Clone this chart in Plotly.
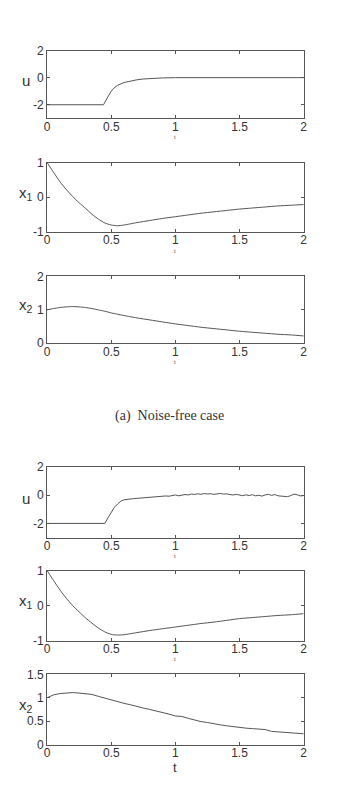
import plotly.graph_objects as go

# ---------------- data ----------------
t_u_clean = [0, 0.44, 0.46, 0.48, 0.5, 0.52, 0.55, 0.6, 0.65, 0.7, 0.75, 0.8, 0.9, 1.0, 2.0]
u_clean = [-2, -2, -1.65, -1.3, -1.0, -0.78, -0.56, -0.36, -0.25, -0.16, -0.1, -0.06, -0.02, 0, 0]

t_x = [0, 0.05, 0.1, 0.15, 0.2, 0.25, 0.3, 0.35, 0.4, 0.45, 0.5, 0.55, 0.6, 0.7, 0.8, 0.9,
       1.0, 1.1, 1.2, 1.3, 1.4, 1.5, 1.6, 1.7, 1.8, 1.9, 2.0]
x1_clean = [1.0, 0.72, 0.45, 0.22, 0.02, -0.16, -0.32, -0.49, -0.63, -0.74, -0.8, -0.82, -0.8,
            -0.73, -0.67, -0.61, -0.56, -0.51, -0.46, -0.42, -0.38, -0.34, -0.31, -0.28, -0.25, -0.23, -0.21]
x2_clean = [1.0, 1.04, 1.07, 1.09, 1.1, 1.09, 1.07, 1.04, 1.0, 0.96, 0.91, 0.87, 0.83,
            0.76, 0.7, 0.64, 0.58, 0.53, 0.48, 0.44, 0.4, 0.36, 0.33, 0.3, 0.27, 0.25, 0.22]

t_u_noisy = [0, 0.45, 0.475, 0.5, 0.525, 0.55, 0.575, 0.6, 0.625, 0.65, 0.675, 0.7, 0.725, 0.75,
             0.775, 0.8, 0.825, 0.85, 0.875, 0.9, 0.925, 0.95, 0.975, 1.0, 1.025, 1.05, 1.075,
             1.1, 1.125, 1.15, 1.175, 1.2, 1.225, 1.25, 1.275, 1.3, 1.325, 1.35, 1.375, 1.4,
             1.425, 1.45, 1.475, 1.5, 1.525, 1.55, 1.575, 1.6, 1.625, 1.65, 1.675, 1.7, 1.725,
             1.75, 1.775, 1.8, 1.825, 1.85, 1.875, 1.9, 1.925, 1.95, 1.975, 2.0]
u_noisy = [-2, -2, -1.6, -1.2, -0.85, -0.62, -0.42, -0.32, -0.28, -0.27, -0.24, -0.22, -0.2, -0.17,
           -0.15, -0.12, -0.1, -0.08, -0.1, -0.06, -0.05, -0.07, -0.02, 0.02, -0.04, 0.01, 0.05,
           0.02, 0.08, 0.06, 0.1, 0.07, 0.12, 0.09, 0.11, 0.06, 0.1, 0.13, 0.08, 0.1,
           0.05, 0.02, 0.06, 0.01, -0.03, 0.03, -0.02, 0.04, -0.04, 0.0, -0.06, 0.02, 0.07,
           -0.01, 0.05, -0.04, -0.07, -0.12, -0.1, -0.02, 0.08, 0.03, -0.05, -0.02]

x1_noisy = [1.0, 0.72, 0.45, 0.21, 0.0, -0.18, -0.35, -0.5, -0.64, -0.75, -0.82, -0.84, -0.83,
            -0.77, -0.71, -0.66, -0.61, -0.56, -0.51, -0.47, -0.42, -0.37, -0.34, -0.31, -0.28, -0.26, -0.23]

t_x2_noisy = [0, 0.05, 0.1, 0.15, 0.2, 0.25, 0.3, 0.35, 0.4, 0.45, 0.5, 0.55, 0.6, 0.65, 0.7, 0.75,
              0.8, 0.85, 0.9, 0.95, 1.0, 1.05, 1.1, 1.15, 1.2, 1.25, 1.3, 1.35, 1.4, 1.45, 1.5,
              1.55, 1.6, 1.65, 1.7, 1.75, 1.8, 1.85, 1.9, 1.95, 2.0]
x2_noisy = [1.0, 1.06, 1.09, 1.1, 1.11, 1.1, 1.09, 1.07, 1.03, 0.99, 0.95, 0.91, 0.88, 0.85, 0.81, 0.78,
            0.75, 0.72, 0.69, 0.65, 0.61, 0.6, 0.56, 0.52, 0.49, 0.47, 0.44, 0.42, 0.4, 0.38, 0.37,
            0.35, 0.34, 0.33, 0.32, 0.28, 0.27, 0.27, 0.26, 0.25, 0.23]

x_ticks = [0, 0.5, 1, 1.5, 2]
x_ticktext = ["0", "0.5", "1", "1.5", "2"]

panels = [
    dict(t=t_u_clean, y=u_clean, rng=[-3, 2], ticks=[-2, 0, 2], label="u", shape="linear"),
    dict(t=t_x, y=x1_clean, rng=[-1, 1], ticks=[-1, 0, 1], label="x<sub>1</sub>", shape="spline"),
    dict(t=t_x, y=x2_clean, rng=[0, 2], ticks=[0, 1, 2], label="x<sub>2</sub>", shape="spline"),
    dict(t=t_u_noisy, y=u_noisy, rng=[-3, 2], ticks=[-2, 0, 2], label="u", shape="linear"),
    dict(t=t_x, y=x1_noisy, rng=[-1, 1], ticks=[-1, 0, 1], label="x<sub>1</sub>", shape="spline"),
    dict(t=t_x2_noisy, y=x2_noisy, rng=[0, 1.5], ticks=[0, 0.5, 1, 1.5], label="x<sub>2</sub>", shape="linear"),
]

# ---------------- layout ----------------
W, H = 340, 797
X0, X1 = 45, 307
boxes = [(44.3, 113.3), (158.3, 229.0), (274.3, 342.3), (468.3, 540.0), (573.7, 645.0), (679.3, 750.7)]

AX = "#555555"
LINE = "#555555"
TXT = "#333333"
FONT = "Liberation Sans, Arial, sans-serif"

fig = go.Figure()
layout = dict(
    width=W, height=H, margin=dict(l=0, r=0, t=0, b=0),
    paper_bgcolor="white", plot_bgcolor="white", showlegend=False,
    font=dict(family=FONT, color=TXT, size=12),
)
annotations = []

for i, (p, (top, bot)) in enumerate(zip(panels, boxes), start=1):
    xa = "x" if i == 1 else "x%d" % i
    ya = "y" if i == 1 else "y%d" % i
    fig.add_trace(go.Scatter(x=p["t"], y=p["y"], mode="lines", xaxis=xa, yaxis=ya,
                             line=dict(color=LINE, width=1, shape=p["shape"], smoothing=0.6),
                             hoverinfo="skip"))
    dom_y = [1 - bot / H, 1 - top / H]
    common = dict(showline=True, mirror="ticks", linecolor=AX, linewidth=1,
                  ticks="inside", ticklen=3, tickwidth=1, tickcolor=AX,
                  showgrid=False, zeroline=False, tickfont=dict(family=FONT, size=12, color=TXT))
    layout["xaxis" if i == 1 else "xaxis%d" % i] = dict(
        domain=[X0 / W, X1 / W], range=[0, 2], anchor=ya, ticklabelstandoff=-3,
        tickvals=x_ticks, ticktext=x_ticktext, **common)
    layout["yaxis" if i == 1 else "yaxis%d" % i] = dict(
        domain=dom_y, range=p["rng"], anchor=xa,
        tickvals=p["ticks"], ticktext=["%g" % v for v in p["ticks"]], **common)
    # y label
    annotations.append(dict(text=p["label"], x=23 / W, y=1 - ((top + bot) / 2 - 4) / H,
                            xref="paper", yref="paper", showarrow=False,
                            xanchor="center", yanchor="middle",
                            font=dict(family=FONT, size=15, color=TXT)))
    # x label "t"
    if i < 6:
        annotations.append(dict(text="t", x=(X0 + X1) / 2 / W, y=1 - (bot + 19) / H,
                                xref="paper", yref="paper", showarrow=False,
                                xanchor="center", yanchor="middle",
                                font=dict(family=FONT, size=6, color="#555555")))
    else:
        annotations.append(dict(text="t", x=(X0 + X1) / 2 / W, y=1 - (bot + 23) / H,
                                xref="paper", yref="paper", showarrow=False,
                                xanchor="center", yanchor="middle",
                                font=dict(family=FONT, size=13, color=TXT)))

annotations.append(dict(text="(a)  Noise-free case", x=170 / W, y=1 - 416.7 / H,
                        xref="paper", yref="paper", showarrow=False,
                        xanchor="center", yanchor="middle",
                        font=dict(family="Liberation Serif, DejaVu Serif, serif", size=14, color="#333333")))

layout["annotations"] = annotations
fig.update_layout(**layout)
fig.write_html("out.html")
